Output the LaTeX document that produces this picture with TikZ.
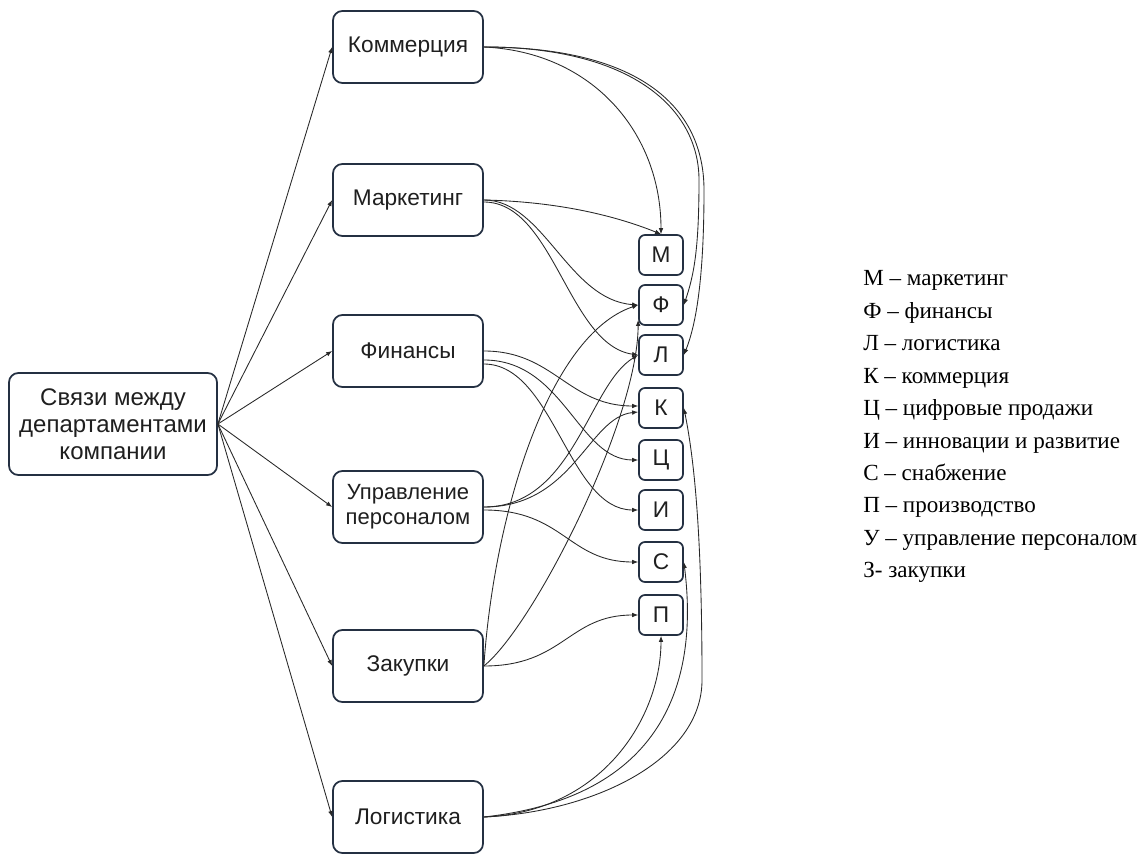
\documentclass[tikz,border=0pt]{standalone}
\usepackage{fontspec}
\setmainfont{Liberation Serif}
\newfontfamily\arialf{Liberation Sans}
\usetikzlibrary{arrows.meta,calc}
\definecolor{boxc}{RGB}{36,48,66}
\definecolor{linec}{RGB}{40,40,40}
\begin{document}
\begin{tikzpicture}[x=0.75pt,y=-0.75pt,
  box/.style={draw=boxc, line width=1.3pt, rounded corners=7pt, fill=white,
    font=\arialf\fontsize{17}{20.5}\selectfont, align=center, text=black!88},
  dept/.style={box, minimum width=112.5pt, minimum height=54pt},
  lett/.style={box, rounded corners=4.5pt, minimum width=33pt, minimum height=30pt, inner sep=0pt},
  conn/.style={draw=linec, line width=0.65pt, -{Latex[length=4.5pt,width=3.5pt]}},
  leg/.style={anchor=base west, font=\fontsize{17.3}{20}\selectfont, inner sep=0pt}]
\useasboundingbox (0,0) rectangle (1145,855);

% main and departments
\node[box, font=\arialf\fontsize{18}{20.3}\selectfont, minimum width=156pt, minimum height=76.5pt] (main) at (113,424) {Связи между\\департаментами\\компании};
\node[dept] (kom) at (408,47) {Коммерция};
\node[dept] (mar) at (408,200) {Маркетинг};
\node[dept] (fin) at (408,351) {Финансы};
\node[dept, font=\arialf\fontsize{16.5}{19}\selectfont] (upr) at (408,507) {Управление\\персоналом};
\node[dept] (zak) at (408,666) {Закупки};
\node[dept] (log) at (408,817) {Логистика};

% letter boxes
\node[lett] (lM) at (661,255) {М};
\node[lett] (lF) at (661,305) {Ф};
\node[lett] (lL) at (661,355) {Л};
\node[lett] (lK) at (661,408) {К};
\node[lett] (lC) at (661,460) {Ц};
\node[lett] (lI) at (661,510) {И};
\node[lett] (lS) at (661,562) {С};
\node[lett] (lP) at (661,615) {П};

% legend
\node[leg] (g1) at (863,286) {М – маркетинг};
\node[leg] (g2) at (863,318.4) {Ф – финансы};
\node[leg] (g3) at (863,350.8) {Л – логистика};
\node[leg] (g4) at (863,383.2) {К – коммерция};
\node[leg] (g5) at (863,415.6) {Ц – цифровые продажи};
\node[leg] (g6) at (863,448) {И – инновации и развитие};
\node[leg] (g7) at (863,480.4) {С – снабжение};
\node[leg] (g8) at (863,512.8) {П – производство};
\node[leg] (g9) at (863,545.2) {У – управление персоналом};
\node[leg] (g10) at (863,577.6) {З- закупки};

% main -> departments
\foreach \d in {kom,mar,fin,upr,zak,log} \draw[conn] (main.east) -- (\d.west);

% Коммерция
\draw[conn] (kom.east) .. controls +(110,5) and +(0,-100) .. (lM.north);
\draw[conn] (kom.east) .. controls +(150,0) and +(0,-70) .. (699,180) .. controls +(0,70) and +(10,-30) .. (lF.east);
\draw[conn] (kom.east) .. controls +(160,0) and +(0,-80) .. (704,190) .. controls +(0,90) and +(12,-30) .. (lL.east);

% Маркетинг
\draw[conn] (mar.east) .. controls +(90,2) and +(-30,-12) .. (lM.north);
\draw[conn] (mar.east) .. controls +(60,0) and +(-70,-5) .. (lF.west);
\draw[conn] ($(mar.east)+(0,2)$) .. controls +(70,0) and +(-70,-10) .. (lL.west);

% Финансы
\draw[conn] (fin.east) .. controls +(70,0) and +(-70,0) .. ($(lK.west)+(0,-2)$);
\draw[conn] ($(fin.east)+(0,9)$) .. controls +(80,0) and +(-60,0) .. (lC.west);
\draw[conn] ($(fin.east)+(0,13)$) .. controls +(70,0) and +(-70,0) .. (lI.west);

% Управление персоналом
\draw[conn] (upr.east) .. controls +(90,0) and +(-50,30) .. (lL.west);
\draw[conn] (upr.east) .. controls +(90,0) and +(-50,5) .. ($(lK.west)+(0,4)$);
\draw[conn] ($(upr.east)+(0,3)$) .. controls +(80,0) and +(-70,0) .. (lS.west);

% Закупки
\draw[conn] (zak.east) .. controls +(10,-150) and +(-90,30) .. (lF.west);
\draw[conn] (zak.east) .. controls +(50,-40) and +(0,100) .. ($(lF.south west)+(0,-6)$);
\draw[conn] (zak.east) .. controls +(80,0) and +(-70,0) .. (lP.west);

% Логистика
\draw[conn] (log.east) .. controls +(120,-5) and +(0,80) .. (lP.south);
\draw[conn] (log.east) .. controls +(180,-20) and +(15,120) .. (lS.east);
\draw[conn] (log.east) .. controls +(110,-5) and +(0,80) .. (702,680) .. controls +(0,-150) and +(10,50) .. (lK.east);
\end{tikzpicture}
\end{document}
